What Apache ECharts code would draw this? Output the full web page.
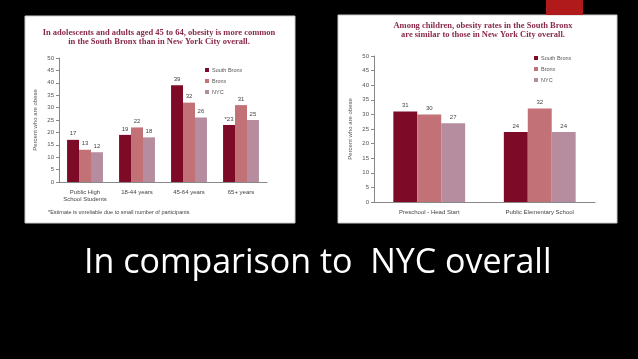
<!DOCTYPE html>
<html><head><meta charset="utf-8">
<script src="https://cdn.jsdelivr.net/npm/echarts@6/dist/echarts.min.js"></script>
<style>html,body{margin:0;padding:0;background:#000;}#c{width:638px;height:359px;}</style>
</head><body><div id="c"></div>
<script>
// Data
const seriesNames = ['South Bronx', 'Bronx', 'NYC'];
const leftCategories = ['Public High\nSchool Students', '18-44 years', '45-64 years', '65+ years'];
const leftSouthBronx = [17, 19, 39, 23];
const leftBronx = [13, 22, 32, 31];
const leftNYC = [12, 18, 26, 25];
const leftSouthBronxLabels = ['17', '19', '39', '*23'];
const rightCategories = ['Preschool - Head Start', 'Public Elementary School'];
const rightSouthBronx = [31, 24];
const rightBronx = [30, 32];
const rightNYC = [27, 24];
const yTicks = [0, 5, 10, 15, 20, 25, 30, 35, 40, 45, 50];

const colors = ['#7d0b27', '#c27277', '#b58d9f'];
const chart = echarts.init(document.getElementById('c'), null, {renderer: 'canvas'});

const lab = {show: true, position: 'top', fontSize: 6, color: '#444', distance: 3, fontFamily: 'Liberation Sans'};
function yAxis(grid) {
  return {
    type: 'value', gridIndex: grid, min: yTicks[0], max: yTicks[yTicks.length - 1], interval: 5,
    name: 'Percent who are obese', nameLocation: 'middle', nameGap: 21, nameRotate: 90,
    nameTextStyle: {fontSize: 6, color: '#555', fontFamily: 'Liberation Sans'},
    axisLine: {show: true, lineStyle: {color: '#888', width: 1}},
    axisTick: {show: true, length: 3, inside: false, lineStyle: {color: '#888'}},
    axisLabel: {fontSize: 6, color: '#555', margin: 5, fontFamily: 'Liberation Sans'},
    splitLine: {show: false}
  };
}
function xAxis(grid, cats) {
  return {
    type: 'category', gridIndex: grid, data: cats,
    axisLine: {show: true, lineStyle: {color: '#888', width: 1}},
    axisTick: {show: false},
    axisLabel: {fontSize: 6, color: '#444', margin: 7, lineHeight: 7, fontFamily: 'Liberation Sans', interval: 0}
  };
}
function bars(grid, data, i, gap, labels) {
  return {
    type: 'bar', name: seriesNames[i], xAxisIndex: grid, yAxisIndex: grid,
    data: data, barGap: '0%', barCategoryGap: gap,
    itemStyle: {color: colors[i]},
    label: labels ? Object.assign({}, lab, {formatter: p => labels[p.dataIndex]}) : lab
  };
}
function legend(left, top) {
  return {
    data: seriesNames, orient: 'vertical', left: left, top: top, itemWidth: 4, itemHeight: 4,
    itemGap: 5, icon: 'rect', selectedMode: false,
    textStyle: {fontSize: 5.5, color: '#555', fontFamily: 'Liberation Sans', padding: [0, 0, 0, -2]}
  };
}
const titleFont = 'bold 8.5px "Liberation Serif"';
chart.setOption({
  backgroundColor: '#000',
  animation: false,
  graphic: [
    {type: 'rect', shape: {x: 25, y: 16, width: 270, height: 207}, style: {fill: '#fff', stroke: '#ccc', lineWidth: 1}, z: -10},
    {type: 'rect', shape: {x: 338, y: 15, width: 279, height: 208}, style: {fill: '#fff', stroke: '#ccc', lineWidth: 1}, z: -10},
    {type: 'rect', shape: {x: 546, y: 0, width: 37, height: 15}, style: {fill: '#b11a1a'}, z: -9},
    {type: 'text', x: 159, y: 33, style: {text: 'In adolescents and adults aged 45 to 64, obesity is more common', font: titleFont, fill: '#8a2a4a', textAlign: 'center', textVerticalAlign: 'middle'}},
    {type: 'text', x: 159, y: 42, style: {text: 'in the South Bronx than in New York City overall.', font: titleFont, fill: '#8a2a4a', textAlign: 'center', textVerticalAlign: 'middle'}},
    {type: 'text', x: 483, y: 26, style: {text: 'Among children, obesity rates in the South Bronx', font: titleFont, fill: '#8a2a4a', textAlign: 'center', textVerticalAlign: 'middle'}},
    {type: 'text', x: 483, y: 35, style: {text: 'are similar to those in New York City overall.', font: titleFont, fill: '#8a2a4a', textAlign: 'center', textVerticalAlign: 'middle'}},
    {type: 'text', x: 48, y: 212, style: {text: '*Estimate is unreliable due to small number of participants', font: '5.5px "Liberation Sans"', fill: '#444', textVerticalAlign: 'middle'}},
    {type: 'text', x: 84, y: 280, style: {text: 'In comparison to  NYC overall', font: '34px "Open Sans"', fill: '#fff', textVerticalAlign: 'bottom'}}
  ],
  legend: [legend(200, 62), legend(529, 50)],
  grid: [
    {left: 59, top: 58, right: 371, bottom: 177, containLabel: false},
    {left: 374, top: 56, right: 43, bottom: 157, containLabel: false}
  ],
  xAxis: [xAxis(0, leftCategories), xAxis(1, rightCategories)],
  yAxis: [yAxis(0), yAxis(1)],
  series: [
    bars(0, leftSouthBronx, 0, '31%', leftSouthBronxLabels),
    bars(0, leftBronx, 1, '31%'),
    bars(0, leftNYC, 2, '31%'),
    bars(1, rightSouthBronx, 0, '35%'),
    bars(1, rightBronx, 1, '35%'),
    bars(1, rightNYC, 2, '35%')
  ]
});
</script></body></html>
